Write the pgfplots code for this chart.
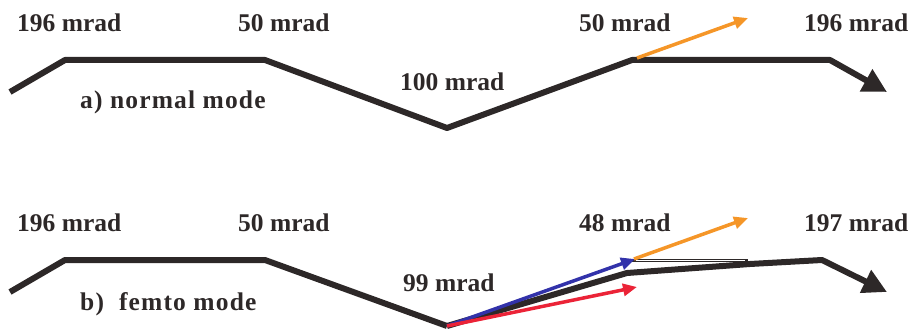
\documentclass[border=0pt]{standalone}
\usepackage{fontspec}
\setmainfont{Liberation Serif}
\usepackage{pgfplots}
\pgfplotsset{compat=1.18}
\usetikzlibrary{arrows.meta}
\definecolor{ink}{RGB}{45,40,40}
\definecolor{borange}{RGB}{245,150,40}
\definecolor{bblue}{RGB}{50,50,170}
\definecolor{bred}{RGB}{235,35,55}
\tikzset{lbl/.style={font=\bfseries\fontsize{25.5}{30}\selectfont, text=ink, anchor=base west, inner sep=0pt}}
\begin{document}
\begin{tikzpicture}
\useasboundingbox (0,0) rectangle (908pt,329pt);
\begin{axis}[at={(0,0)},anchor=south west, scale only axis, width=908pt, height=329pt,
  xmin=0,xmax=908,ymin=0,ymax=329, y dir=reverse, axis lines=none, clip=false,
  every axis plot/.append style={no markers, line join=round}]
% a) normal mode
\addplot[ink, line width=6pt, -{Triangle[length=24pt,width=24pt]}] coordinates {(10,92) (65,60) (265,60) (447,128) (632,60) (830,60) (887,92)};
\addplot[borange, line width=3.5pt, -{Triangle[length=14pt,width=12pt]}] coordinates {(637,58) (748,18)};
% b) femto mode
\addplot[ink, line width=6pt] coordinates {(10,292) (65,260) (265,260) (447,326)};
\addplot[ink, line width=6pt, -{Triangle[length=24pt,width=24pt]}] coordinates {(447,326) (627,273) (750,264) (822,260) (887,292)};
\addplot[ink, line width=3pt] coordinates {(632,260) (748,260)};
\addplot[white, line width=1pt] coordinates {(636,260) (745,260)};
\addplot[bblue, line width=3.5pt, -{Triangle[length=14pt,width=12pt]}] coordinates {(447,326) (635,259)};
\addplot[bred, line width=3.5pt, -{Triangle[length=14pt,width=12pt]}] coordinates {(447,326) (637,287)};
\addplot[borange, line width=3.5pt, -{Triangle[length=14pt,width=12pt]}] coordinates {(634,259) (748,218)};
% labels
\node[lbl] at (axis cs:17,32) {196 mrad};
\node[lbl] at (axis cs:238,32) {50 mrad};
\node[lbl] at (axis cs:400,90) {100 mrad};
\node[lbl] at (axis cs:579,32) {50 mrad};
\node[lbl] at (axis cs:804,32) {196 mrad};
\node[lbl] at (axis cs:80,108) {\addfontfeature{LetterSpace=4.5}a) normal mode};
\node[lbl] at (axis cs:17,231) {196 mrad};
\node[lbl] at (axis cs:238,231) {50 mrad};
\node[lbl] at (axis cs:403,291) {99 mrad};
\node[lbl] at (axis cs:579,231) {48 mrad};
\node[lbl] at (axis cs:804,231) {197 mrad};
\node[lbl] at (axis cs:80,310) {\addfontfeature{LetterSpace=4.5}b)\ \ femto mode};
\end{axis}
\end{tikzpicture}
\end{document}
